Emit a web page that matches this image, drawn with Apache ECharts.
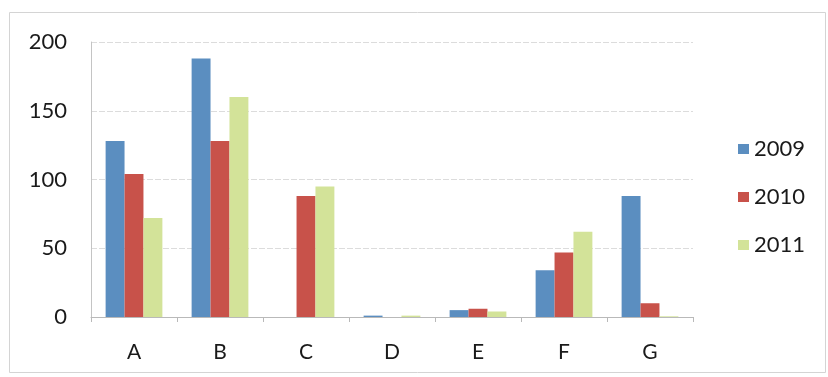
<!DOCTYPE html>
<html>
<head>
<meta charset="utf-8">
<script src="https://cdn.jsdelivr.net/npm/echarts@6/dist/echarts.min.js"></script>
<style>
  html, body { margin: 0; padding: 0; background: #ffffff; }
  #chart { width: 828px; height: 377px; }
</style>
</head>
<body>
<div id="chart"></div>
<script>
// Categories and yearly values
const categories = ['A', 'B', 'C', 'D', 'E', 'F', 'G'];
const values2009 = [128, 188, 0, 1, 5, 34, 88];
const values2010 = [104, 128, 88, 0, 6, 47, 10];
const values2011 = [72, 160, 95, 1, 4, 62, 0.5];
const seriesNames = ['2009', '2010', '2011'];
const yTicks = { min: 0, max: 200, interval: 50 };

const colors = ['#5b8ec0', '#c8524a', '#d3e399'];
const font = 'Lato, "Open Sans", sans-serif';

const chart = echarts.init(document.getElementById('chart'), null, { renderer: 'canvas' });

const seriesData = [values2009, values2010, values2011];

chart.setOption({
  animation: false,
  backgroundColor: '#ffffff',
  color: colors,
  graphic: [{
    type: 'rect',
    shape: { x: 9.5, y: 12.5, width: 816, height: 360 },
    style: { fill: 'none', stroke: '#d4d4d4', lineWidth: 1 },
    silent: true
  }],
  grid: { left: 91, right: 135, top: 42, bottom: 60 },
  legend: {
    orient: 'vertical',
    left: 733,
    top: 133,
    itemWidth: 11,
    itemHeight: 10,
    itemGap: 26,
    icon: 'rect',
    textStyle: { fontFamily: font, fontSize: 22, color: '#1a1a1a', padding: [0, 0, 0, 0] },
    data: seriesNames
  },
  xAxis: {
    type: 'category',
    data: categories,
    axisLine: { show: true, lineStyle: { color: '#b9b9b9', width: 1 } },
    axisTick: { show: true, length: 5, inside: false, lineStyle: { color: '#b9b9b9' } },
    axisLabel: { fontFamily: font, fontSize: 21, color: '#1a1a1a', margin: 25 }
  },
  yAxis: {
    type: 'value',
    min: yTicks.min,
    max: yTicks.max,
    interval: yTicks.interval,
    axisLine: { show: true, lineStyle: { color: '#c4c4c4', width: 1 } },
    axisTick: { show: false },
    splitLine: { show: true, lineStyle: { color: '#dcdcdc', width: 1, type: [6, 2] } },
    axisLabel: { fontFamily: font, fontSize: 22, color: '#1a1a1a', margin: 24 }
  },
  series: seriesNames.map((name, i) => ({
    name: name,
    type: 'bar',
    data: seriesData[i],
    barGap: '0%',
    barCategoryGap: '34%',
    itemStyle: { color: colors[i] }
  }))
});
</script>
</body>
</html>
